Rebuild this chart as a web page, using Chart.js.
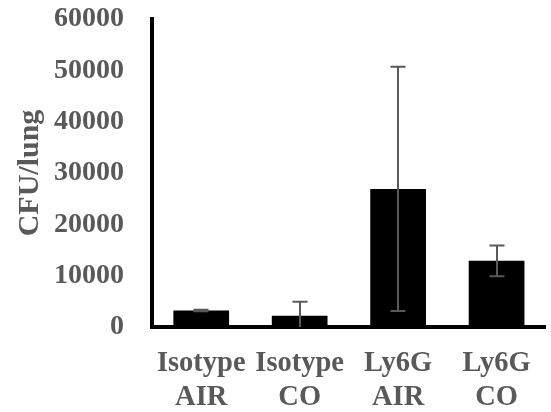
<!DOCTYPE html>
<html>
<head>
<meta charset="utf-8">
<script src="https://cdn.jsdelivr.net/npm/chart.js@4/dist/chart.umd.min.js"></script>
<style>
  html, body { margin: 0; padding: 0; background: #fff; }
  #wrap { width: 551px; height: 412px; }
</style>
</head>
<body>
<div id="wrap"><canvas id="chart"></canvas></div>
<script>
// Groups and CFU counts (mean and error)
const groups = [['Isotype', 'AIR'], ['Isotype', 'CO'], ['Ly6G', 'AIR'], ['Ly6G', 'CO']];
const cfuMean = [3200, 2200, 26900, 12900];
const cfuError = [150, 2700, 23800, 3000];

const textGray = '#595959';
const serif = '"Liberation Serif", "Times New Roman", serif';

// Draws the error bars using the chart's own scales
const errorBars = {
    id: 'errorBars',
    afterDatasetsDraw(chart) {
        const ctx = chart.ctx;
        const yScale = chart.scales.y;
        const area = chart.chartArea;
        const meta = chart.getDatasetMeta(0);
        ctx.save();
        ctx.beginPath();
        ctx.rect(area.left, area.top - 5, area.right - area.left, area.bottom - area.top + 5);
        ctx.clip();
        ctx.strokeStyle = textGray;
        ctx.lineWidth = 2;
        meta.data.forEach((bar, i) => {
            const hi = yScale.getPixelForValue(cfuMean[i] + cfuError[i]);
            const lo = yScale.getPixelForValue(cfuMean[i] - cfuError[i]);
            const x = Math.round(bar.x);
            ctx.beginPath();
            ctx.moveTo(x, hi);
            ctx.lineTo(x, lo);
            ctx.moveTo(x - 7.5, hi);
            ctx.lineTo(x + 7.5, hi);
            ctx.moveTo(x - 7.5, lo);
            ctx.lineTo(x + 7.5, lo);
            ctx.stroke();
        });
        ctx.restore();
    }
};

new Chart(document.getElementById('chart'), {
    type: 'bar',
    data: {
        labels: groups,
        datasets: [{
            data: cfuMean,
            backgroundColor: '#000000',
            borderWidth: 0,
            barPercentage: 0.566,
            categoryPercentage: 1.0
        }]
    },
    options: {
        responsive: true,
        maintainAspectRatio: false,
        animation: false,
        layout: { padding: { top: 19, right: 3, left: 0, bottom: 0 } },
        plugins: {
            legend: { display: false },
            tooltip: { enabled: false }
        },
        scales: {
            x: {
                grid: { display: false, drawTicks: false },
                border: { color: '#000000', width: 4 },
                ticks: {
                    color: textGray,
                    font: { family: serif, size: 28.5, weight: 'bold', lineHeight: 1.18 },
                    padding: 20,
                    maxRotation: 0,
                    autoSkip: false
                },
                afterFit(scale) { scale.height = 85; }
            },
            y: {
                min: 0,
                max: 60000,
                grid: { display: false, drawTicks: false },
                border: { color: '#000000', width: 4 },
                ticks: {
                    stepSize: 10000,
                    color: textGray,
                    font: { family: serif, size: 28, weight: 'bold' },
                    padding: 28,
                    callback: v => String(v)
                },
                title: {
                    display: true,
                    text: 'CFU/lung',
                    color: textGray,
                    font: { family: serif, size: 30, weight: 'bold' },
                    padding: { top: 12, bottom: 0 }
                },
                afterFit(scale) {
                    scale.width = 152;
                    scale.paddingTop = 0;
                    scale.paddingBottom = 0;
                }
            }
        }
    },
    plugins: [errorBars]
});
</script>
</body>
</html>
